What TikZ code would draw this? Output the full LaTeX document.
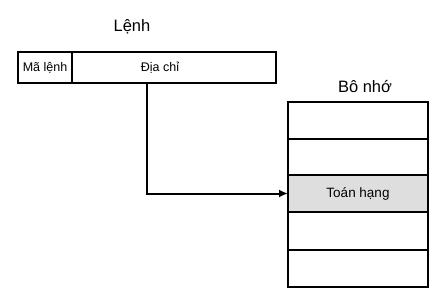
\documentclass[tikz,border=0pt]{standalone}
\usepackage{fontspec}
\setmainfont{Liberation Sans}
\usetikzlibrary{arrows.meta}
\begin{document}
\begin{tikzpicture}[x=1pt,y=-1pt,
  cell/.style={draw,line width=2pt,minimum width=140pt,minimum height=37pt,inner sep=0pt,outer sep=0pt,anchor=north west,font=\fontsize{13.5}{15}\selectfont},
  lbl/.style={font=\fontsize{16.5}{18}\selectfont,inner sep=0pt}]
\useasboundingbox (0,0) rectangle (446,299);
\node[draw,line width=2pt,minimum width=54pt,minimum height=31pt,inner sep=0pt,outer sep=0pt,anchor=north west,font=\fontsize{12.5}{14}\selectfont] (ma) at (18,52) {Mã lệnh};
\node[draw,line width=2pt,minimum width=204pt,minimum height=31pt,inner sep=0pt,outer sep=0pt,anchor=north west,font=\fontsize{12.5}{14}\selectfont] (dc) at (72,52) {};
\node[font=\fontsize{12.5}{14}\selectfont,inner sep=0pt] (dct) at (160,68) {Địa chỉ};
\node[lbl] (lenh) at (132,27) {Lệnh};
\node[lbl] (bn) at (365,87) {Bô nhớ};
\node[cell] (m1) at (288,102) {};
\node[cell,minimum height=36pt] (m2) at (288,139) {};
\node[cell,fill=black!13] (m3) at (288,175) {Toán hạng};
\node[cell,minimum height=38pt] (m4) at (288,212) {};
\node[cell] (m5) at (288,250) {};
\coordinate (s) at (147,83);
\draw[line width=2pt,-{Latex[length=9pt,width=8pt]}] (s) |- (m3.west);
\end{tikzpicture}
\end{document}
